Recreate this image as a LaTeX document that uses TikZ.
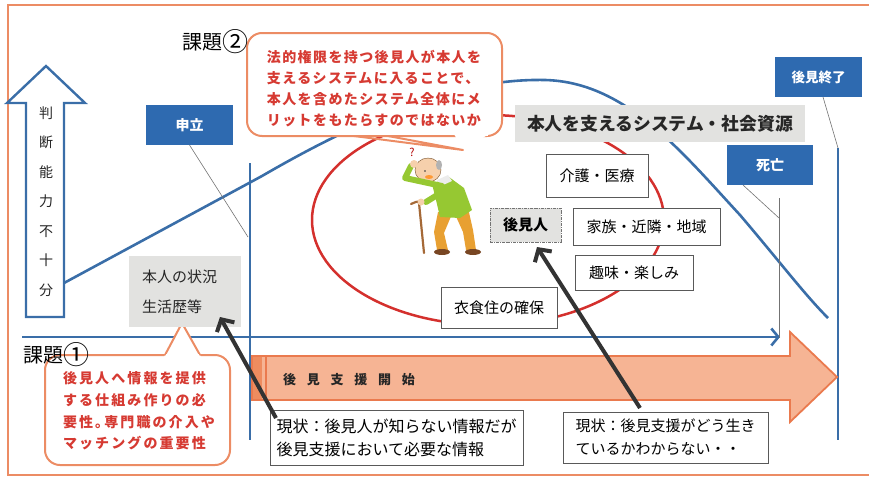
\documentclass[tikz,border=0pt]{standalone}
\usepackage{fontspec}
\setmainfont{Noto Sans CJK JP}
\usetikzlibrary{arrows.meta}

\definecolor{lineblue}{RGB}{58,110,168}
\definecolor{boxblue}{RGB}{46,106,176}
\definecolor{frameorange}{RGB}{236,140,100}
\definecolor{redtext}{RGB}{214,58,50}
\definecolor{ellred}{RGB}{212,48,45}
\definecolor{boxgray}{RGB}{226,226,224}
\definecolor{arrowfill}{RGB}{246,180,148}
\definecolor{arrowedge}{RGB}{234,122,78}
\definecolor{arrowband}{RGB}{238,140,95}
\definecolor{sweater}{RGB}{150,200,50}
\definecolor{pantorange}{RGB}{232,160,50}
\definecolor{skin}{RGB}{246,208,172}
\definecolor{canebrown}{RGB}{165,105,55}
\definecolor{shoebrown}{RGB}{120,70,35}

% enlarged circled numeral for the issue headings
\newcommand{\bignum}[1]{\raisebox{-2.2pt}{\fontsize{26}{26}\selectfont #1}}

\begin{document}
\begin{tikzpicture}[x=1pt,y=-1pt,
  every node/.style={inner sep=0pt, outer sep=0pt},
  bluebox/.style={fill=boxblue, text=white, font=\bfseries\fontsize{14}{16}\selectfont},
  whitebox/.style={draw=black!65, line width=0.8pt, fill=white, font=\fontsize{15}{18}\selectfont},
  graybox/.style={fill=boxgray},
  callout/.style={draw=frameorange, line width=2pt, fill=white, rounded corners=15pt},
  calltext/.style={text=redtext, align=left},
  blueline/.style={draw=lineblue, line width=2.6pt},
  thinline/.style={draw=black!55, line width=0.6pt},
  pointer/.style={draw=black!80, line width=4pt, -{Straight Barb[length=9pt,width=20pt]}},
  heading/.style={font=\fontsize{20}{22}\selectfont, text=black},
]
\useasboundingbox (0,0) rectangle (869,477);
\clip (0,0) rectangle (869,477);

% outer frame
\draw[frameorange, line width=2.2pt] (8,5) rectangle (880,475);

% judgement curve and support circle
\draw[blueline] (64,283) -- (262,176)
  .. controls (350,125) and (450,78) .. (545,80)
  .. controls (625,82) and (680,150) .. (740,215)
  .. controls (780,262) and (805,295) .. (828,318);
\draw[ellred, line width=2.5pt] (488,220) ellipse [x radius=176, y radius=105];

% time markers
\coordinate (startTop) at (250,163);
\coordinate (startBot) at (250,440);
\coordinate (endTop) at (838,148);
\coordinate (endBot) at (838,440);
\draw[blueline, line width=2.4pt] (startTop) -- (startBot);
\draw[blueline, line width=2.4pt] (endTop) -- (endBot);

% vertical arrow: insufficient capacity
\draw[lineblue, line width=2.4pt, fill=white, line join=miter]
  (26,317) -- (26,103) -- (7,103) -- (46,66) -- (85,103) -- (64,103) -- (64,317) -- cycle;
\node[align=center, text=black!85, font=\fontsize{14}{29.5}\selectfont] (judge) at (46,201.5)
  {判\\断\\能\\力\\不\\十\\分};

% time axis
\coordinate (axisL) at (22,337);
\coordinate (axisR) at (780,337);
\draw[blueline, -{Straight Barb[length=7pt,width=17pt]}] (axisL) -- (axisR);

% support start arrow
\draw[arrowedge, line width=1.8pt, fill=arrowfill, line join=miter]
  (252,356) -- (790,356) -- (790,332) -- (837,377) -- (790,422) -- (790,400) -- (252,400) -- cycle;
\fill[arrowband] (253,357) rectangle (262,399);
\draw[arrowedge, line width=1.2pt] (266,357) -- (266,399);
\node[anchor=west, text=black!85, font=\bfseries\fontsize{13}{15}\selectfont\addfontfeatures{LetterSpace=83}] (start) at (283,380) {後見支援開始};

% event boxes
\node[bluebox, minimum width=87pt, minimum height=40pt] (moshi) at (189.5,125) {申立};
\node[bluebox, minimum width=87pt, minimum height=40pt, font=\bfseries\fontsize{13.5}{16}\selectfont] (owari) at (818.5,77) {後見終了};
\node[bluebox, minimum width=86pt, minimum height=40pt] (shibo) at (770,165) {死亡};

\coordinate (moshiMark) at (248,237);
\draw[thinline] (moshi.south) -- (moshiMark);
\coordinate (owariMark) at (838,148);
\draw[thinline] ([xshift=4.5pt]owari.south) -- (owariMark);
\coordinate (shiboMark) at (779,218);
\coordinate (shiboTop) at (779,198);
\coordinate (shiboBot) at (779,338);
\draw[thinline] ([xshift=-27pt]shibo.south) -- (shiboMark);
\draw[thinline] (shiboTop) -- (shiboBot);

% callout 2
\node[callout, minimum width=255pt, minimum height=103pt] (call2) at (374.5,84.5) {};
\fill[white] (454,134) -- (463,150) -- (489,134) -- cycle;
\draw[frameorange, line width=2pt, line join=round] ([xshift=-20.5pt]call2.south) -- (463,150) -- ([xshift=13.5pt]call2.south);
\fill[white] (455,133.5) rectangle (488,136);
\node[calltext, font=\bfseries\fontsize{14}{21}\selectfont\addfontfeatures{LetterSpace=10}] (call2txt) at (374,88.5)
  {法的権限を持つ後見人が本人を\\支えるシステムに入ることで、\\本人を含めたシステム全体にメ\\リットをもたらすのではないか};
\node[heading] (kadai2) at (215,42) {課題\bignum{②}};

% callout 1
\node[callout, minimum width=185pt, minimum height=110pt] (call1) at (137.5,410) {};
\fill[white] (164,357) -- (182,323) -- (201,357) -- cycle;
\draw[frameorange, line width=2pt, line join=round] (165,355) -- (182,323) -- (200,355);
\fill[white] (166,354) rectangle (199,357);
\node[calltext, font=\bfseries\fontsize{14}{21.7}\selectfont\addfontfeatures{LetterSpace=15}] (call1txt) at (139,411)
  {後見人へ情報を提供\\する仕組み作りの必\\要性｡専門職の介入や\\マッチングの重要性};
\node[heading] (kadai1) at (56,355) {課題\bignum{①}};

% system label and resources
\node[graybox, minimum width=290pt, minimum height=37pt, text=black!85, font=\bfseries\fontsize{17.8}{20}\selectfont] (system) at (660,123.5)
  {本人を支えるシステム・社会資源};
\node[whitebox, minimum width=102pt, minimum height=43pt] (kaigo) at (597,175.5) {介護・医療};
\node[whitebox, minimum width=147pt, minimum height=37pt] (kazoku) at (646.5,226.5) {家族・近隣・地域};
\node[whitebox, minimum width=118pt, minimum height=35pt] (shumi) at (634,272.5) {趣味・楽しみ};
\node[whitebox, minimum width=116pt, minimum height=41pt] (ishoku) at (499,307.5) {衣食住の確保};
\node[graybox, draw=black!55, line width=0.8pt, densely dashdotted, minimum width=71pt, minimum height=34pt,
  font=\bfseries\fontsize{15}{18}\selectfont] (koken) at (525.5,225) {後見人};

% personal history
\node[graybox, minimum height=71pt, text width=86pt, inner xsep=13pt, align=left,
  font=\fontsize{15}{30}\selectfont, text=black!85] (honnin) at (185,291.5) {本人の状況\\生活歴等};

% current situation boxes
\node[whitebox, minimum width=253pt, minimum height=55pt, align=left, font=\fontsize{16}{23}\selectfont] (genjo1) at (396.5,437.5)
  {現状：後見人が知らない情報だが\\後見支援において必要な情報};
\node[whitebox, minimum width=205pt, minimum height=51pt, align=left, font=\fontsize{15}{23}\selectfont] (genjo2) at (665.5,437.5)
  {現状：後見支援がどう生き\\ているかわからない・・};

% elderly person
\draw[canebrown, line width=2.2pt, line cap=round] (424,253) -- (419,203);
\draw[canebrown, line width=2.2pt, line cap=round] (419,203) to[out=95,in=20] (411,204);
\fill[pantorange] (438,212) -- (452,214) -- (444,233) -- (448,250) -- (437,250) -- (434,232) -- cycle;
\fill[pantorange] (454,212) -- (468,208) -- (473,230) -- (476,250) -- (466,250) -- (463,232) -- cycle;
\fill[shoebrown] (442,252) ellipse [x radius=8, y radius=3];
\fill[shoebrown] (473,252) ellipse [x radius=8, y radius=3];
\fill[sweater] (432,184) -- (449,177) -- (464,188) -- (472,210) -- (460,218) -- (440,217) -- (436,200) -- cycle;
\fill[white!85!gray] (437,180) -- (448,175) -- (452,181) -- (441,186) -- cycle;
\draw[sweater, line width=6pt, line cap=round] (442,192) -- (426,202);
\fill[skin] (421,202) circle (3.5);
\fill[skin, draw=brown!60!black, line width=0.4pt] (428,170) ellipse [x radius=13, y radius=12];
\fill[gray!60] (439,165) ellipse [x radius=3, y radius=5];
\fill[black!80] (425,171) circle (0.9);
\fill[orange!80] (429,177) ellipse [x radius=4, y radius=2];
\draw[sweater, line width=6pt, line cap=round, line join=round] (442,186) -- (405,178) -- (411,166);
\fill[skin] (414,164) circle (4);
\node[text=red!70!black, font=\fontsize{11}{11}\selectfont] (qmark) at (412,152) {?};

% pointers from current situation
\draw[pointer] ([xshift=6pt,yshift=-8pt]genjo1.north west) -- ([xshift=-21pt,yshift=10pt]honnin.south east);
\draw[pointer] ([xshift=-25.5pt,yshift=4pt]genjo2.north) -- ([xshift=11.5pt,yshift=-5pt]koken.south);
\end{tikzpicture}
\end{document}
